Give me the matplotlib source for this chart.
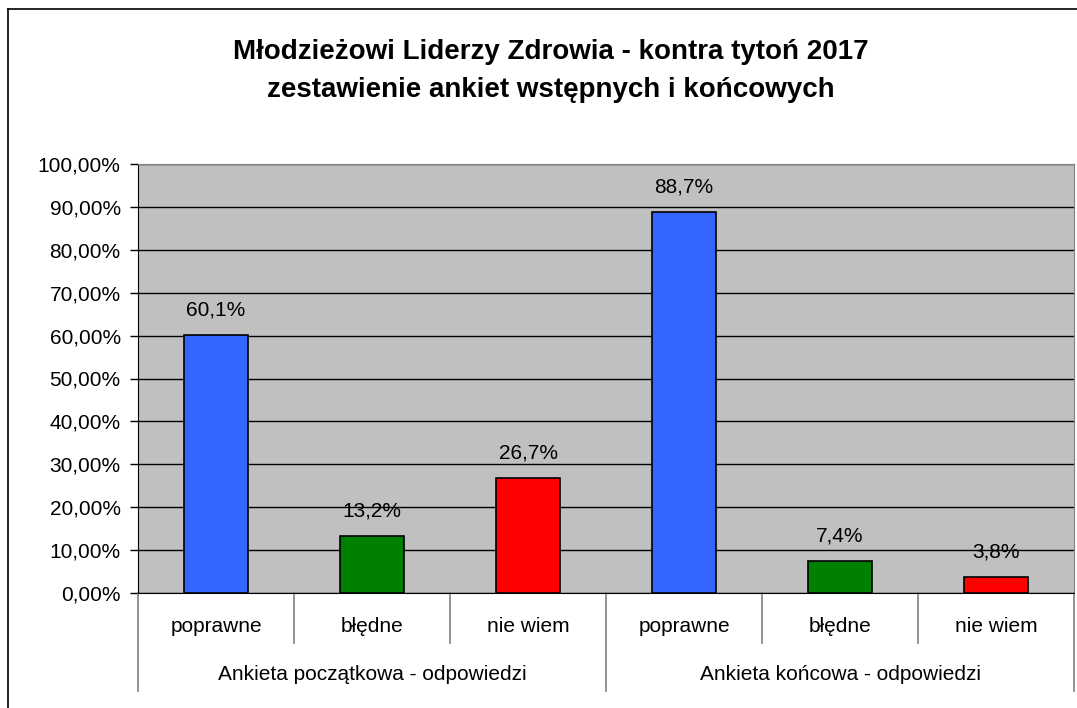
import matplotlib.pyplot as plt
from matplotlib.lines import Line2D
from matplotlib.ticker import FuncFormatter

plt.rcParams['font.family'] = ['Liberation Sans', 'DejaVu Sans']

# Data
groups = ['Ankieta początkowa - odpowiedzi', 'Ankieta końcowa - odpowiedzi']
answers = ['poprawne', 'błędne', 'nie wiem']
start_values = [60.1, 13.2, 26.7]
end_values = [88.7, 7.4, 3.8]
bar_colors = ['#3366FF', '#008000', '#FF0000']

values = start_values + end_values
labels = answers + answers
colors = bar_colors + bar_colors
x = list(range(len(values)))

fig = plt.figure(figsize=(10.77, 7.08), dpi=100)
ax = fig.add_axes([138 / 1077, 115 / 708, 936 / 1077, 429 / 708])
ax.set_facecolor('#C0C0C0')

ax.bar(x, values, width=0.41, color=colors, edgecolor='black', linewidth=1.2, zorder=3)
for xi, v in zip(x, values):
    ax.annotate(f'{v:.1f}%'.replace('.', ','), (xi, v), xytext=(0, 18),
                textcoords='offset points', ha='center', va='center',
                fontsize=15, zorder=4)

ax.set_xlim(-0.5, 5.5)
ax.set_ylim(0, 100)
ax.set_yticks(range(0, 101, 10))
ax.yaxis.set_major_formatter(FuncFormatter(lambda v, p: f'{v:.2f}%'.replace('.', ',')))
ax.tick_params(axis='y', direction='out', length=5.5, width=1, labelsize=15, pad=7)
ax.set_xticks([])
ax.grid(axis='y', color='black', linewidth=1, zorder=1)

for side in ['top', 'right']:
    ax.spines[side].set_color('#808080')
ax.spines['left'].set_color('black')
ax.spines['bottom'].set_color('black')

# category labels and separators
trans = ax.get_xaxis_transform()
for xi, lab in zip(x, labels):
    ax.text(xi, -0.079, lab, transform=trans, ha='center', va='center', fontsize=15)
for b in [0.5, 1.5, 3.5, 4.5]:
    ax.plot([b, b], [0, -0.117], transform=trans, color='#808080', lw=1.2, clip_on=False)
for b in [-0.5, 2.5, 5.5]:
    ax.plot([b, b], [0, -0.228], transform=trans, color='#808080', lw=1.2, clip_on=False)
for gi, g in enumerate(groups):
    ax.text(1 + gi * 3, -0.191, g, transform=trans, ha='center', va='center', fontsize=15)

fig.text(551 / 1077, 1 - 71 / 708,
         'Młodzieżowi Liderzy Zdrowia - kontra tytoń 2017\nzestawienie ankiet wstępnych i końcowych',
         ha='center', va='center', fontsize=20, fontweight='bold', linespacing=1.6)

# outer frame (left and top edges)
fig.add_artist(Line2D([8 / 1077, 8 / 1077], [0, 1 - 9 / 708], color='black', lw=1.2))
fig.add_artist(Line2D([8 / 1077, 1], [1 - 9 / 708, 1 - 9 / 708], color='black', lw=1.2))

fig.savefig('out.png', dpi=100)
